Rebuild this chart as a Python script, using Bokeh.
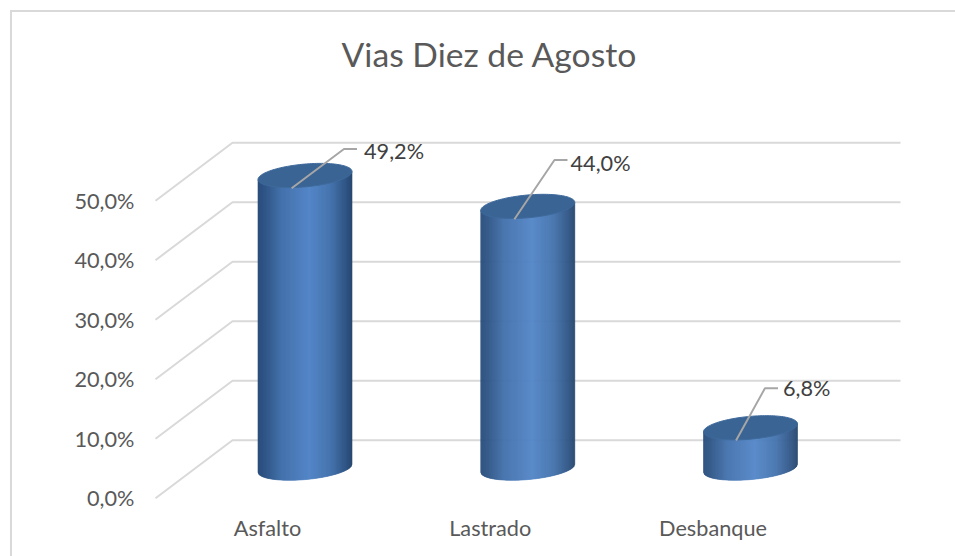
import numpy as np
from bokeh.plotting import figure
from bokeh.embed import file_html
from bokeh.resources import INLINE
from bokeh.core.properties import value
from bokeh.models import FixedTicker, Title, InlineStyleSheet

categories = ["Asfalto", "Lastrado", "Desbanque"]
shares = [49.2, 44.0, 6.8]
grid_levels = [0, 10, 20, 30, 40, 50]
leader_start = [(-0.06, -2.15), (-0.06, -2.15), (-0.065, -2.15)]  # from cylinder top centre
leader_elbow = [(0.175, 4.45), (0.12, 7.8), (0.065, 6.65)]
label_gap_px = [7, 3, 5]
label_shift_px = [-2.5, -3.5, 0]

PX_X, PX_Y = 222.75, 5.95
FRONT_X, FRONT_Y = 267.0, 497.7
W, H = 955, 556
L, R, T, B = 150.0, 905.0, 78.0, 505.0
DEPTH_X, DEPTH_Y = 77 / PX_X, 58 / PX_Y
A, TILT, BB = 47 / PX_X, 4 / PX_Y, 11.4 / PX_Y
STOPS = [(0, (42, 78, 124)), (.08, (48, 87, 136)), (.25, (68, 114, 172)), (.55, (85, 135, 201)),
         (.78, (69, 116, 173)), (.93, (50, 88, 136)), (1, (40, 72, 112))]

p = figure(width=W, height=H, output_backend="svg", toolbar_location=None,
           x_range=((L - FRONT_X) / PX_X, (R - FRONT_X) / PX_X),
           y_range=((FRONT_Y - B) / PX_Y, (FRONT_Y - T) / PX_Y),
           min_border_left=int(L), min_border_right=int(W - R),
           min_border_top=int(T), min_border_bottom=int(H - B))
p.outline_line_color = None
p.grid.visible = False
p.background_fill_color = "white"
p.stylesheets = [InlineStyleSheet(css=":host::after{content:'';position:absolute;left:10px;top:10px;"
                                      "width:960px;height:560px;border-left:2px solid #d9d9d9;"
                                      "border-top:2px solid #d9d9d9;pointer-events:none;}"
                                      ":host{overflow:hidden;}")]

p.add_layout(Title(text="Vias Diez de Agosto", text_font="Lato", text_font_size="33.7px",
                   text_font_style="normal", text_color="#595959", align="left", offset=191), "above")

xa, ya = p.xaxis[0], p.yaxis[0]
xa.ticker = FixedTicker(ticks=list(range(len(categories))))
xa.major_label_overrides = {i: c for i, c in enumerate(categories)}
ya.ticker = FixedTicker(ticks=grid_levels)
ya.major_label_overrides = {v: f"{v:.1f}%".replace(".", ",") for v in grid_levels}
for ax in (xa, ya):
    ax.axis_line_color = None
    ax.major_tick_line_color = None
    ax.minor_tick_line_color = None
    ax.major_label_text_font = "Lato"
    ax.major_label_text_font_size = "21.7px"
    ax.major_label_text_color = "#595959"
xa.major_label_standoff = 3
ya.major_label_standoff = 10

# walls
x0 = (155 - FRONT_X) / PX_X
xe = (900 - FRONT_X) / PX_X
for v in grid_levels:
    p.line([x0, x0 + DEPTH_X, xe], [v, v + DEPTH_Y, v + DEPTH_Y], line_color="#d9d9d9", line_width=2)


def shade(t):
    ts = [s[0] for s in STOPS]
    rgb = [int(np.interp(t, ts, [s[1][i] for s in STOPS])) for i in range(3)]
    return "#%02x%02x%02x" % tuple(rgb)


for i, v in enumerate(shares):
    cx = i + DEPTH_X / 2 - 1 / PX_X
    y_base = DEPTH_Y / 2 + 1 / PX_Y
    y_top = y_base + v
    xs, ys, cols = [], [], []
    n = 94
    edges = np.linspace(-1, 1, n + 1)
    for k in range(n):
        c0, c1 = edges[k], edges[k + 1]
        s0, s1 = np.sqrt(1 - c0 ** 2), np.sqrt(1 - c1 ** 2)
        xs.append([cx + A * c0, cx + A * c1, cx + A * c1, cx + A * c0])
        ys.append([y_base + TILT * c0 - BB * s0, y_base + TILT * c1 - BB * s1,
                   y_top + TILT * c1, y_top + TILT * c0])
        cols.append(shade((k + .5) / n))
    p.patches(xs, ys, fill_color=cols, line_color=cols, line_width=0.6)
    t = np.linspace(0, 2 * np.pi, 120)
    p.patch(cx + A * np.cos(t), y_top + TILT * np.cos(t) + BB * np.sin(t),
            fill_color="#3a6494", line_color="#3f6a9c", line_width=1)
    sx, sy = cx + leader_start[i][0], y_top + leader_start[i][1]
    ex, ey = cx + leader_elbow[i][0], y_top + leader_elbow[i][1]
    fx = ex + 13 / PX_X
    p.line([sx, ex, fx], [sy, ey, ey], line_color="#a6a6a6", line_width=2)
    p.text([fx + label_gap_px[i] / PX_X], [y_top + leader_elbow[i][1] + (label_shift_px[i] + (leader_elbow[i][1] * 0)) / PX_Y],
           text=[f"{v:.1f}%".replace(".", ",")],
           text_font=value("Lato"), text_font_size="21.7px", text_color="#404040",
           text_align="left", text_baseline="middle")

open("out.html", "w").write(file_html(p, INLINE))
